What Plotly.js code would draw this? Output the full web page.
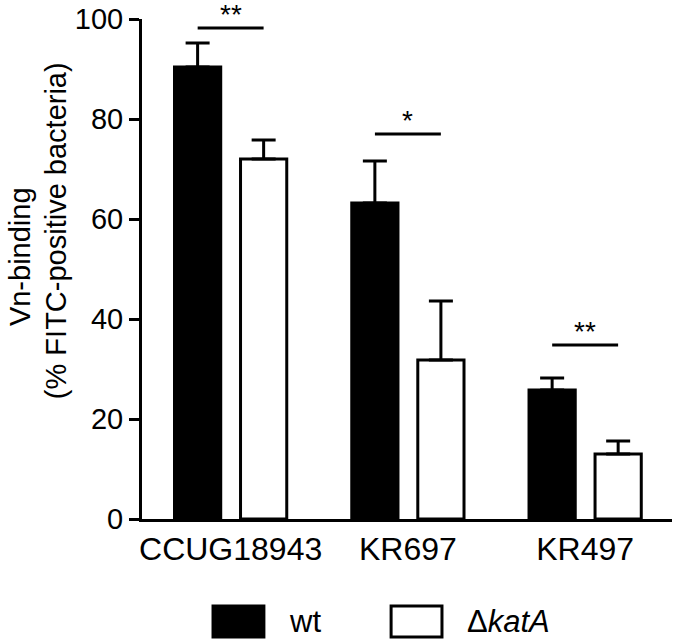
<!DOCTYPE html>
<html>
<head>
<meta charset="utf-8">
<script src="https://cdn.plot.ly/plotly-3.0.1.min.js"></script>
<style>html,body{margin:0;padding:0;background:#fff;}#chart{width:675px;height:641px;}</style>
</head>
<body>
<div id="chart"></div>
<script>
const categories = ['CCUG18943', 'KR697', 'KR497'];
const seriesNames = ['wt', 'Δ<i>katA</i>'];
const wtValues = [90.4, 63.2, 25.8];
const wtErrors = [4.8, 8.4, 2.4];
const katAValues = [72.0, 31.8, 13.0];
const katAErrors = [3.8, 11.8, 2.6];
const sigLevels = [98.2, 77.0, 34.8];
const sigLabels = ['**', '*', '**'];
const yTicks = [0, 20, 40, 60, 80, 100];
const yTitleLines = ['Vn-binding', '(% FITC-positive bacteria)'];

const FONT = 'Liberation Sans, Arial, sans-serif';

const traces = [
  {
    type: 'bar', name: seriesNames[0], x: categories, y: wtValues,
    marker: {color: '#000', line: {color: '#000', width: 3}},
    error_y: {type: 'data', array: wtErrors, arrayminus: wtErrors.map(() => 0), symmetric: false,
              color: '#000', thickness: 3, width: 12},
    cliponaxis: false
  },
  {
    type: 'bar', name: seriesNames[1], x: categories, y: katAValues,
    marker: {color: '#fff', line: {color: '#000', width: 3}},
    error_y: {type: 'data', array: katAErrors, arrayminus: katAErrors.map(() => 0), symmetric: false,
              color: '#000', thickness: 3, width: 12},
    cliponaxis: false
  }
];

const half = 0.186;
const shapes = [];
const annotations = [];
categories.forEach((c, i) => {
  shapes.push({type: 'line', xref: 'x', yref: 'y', x0: i - half, x1: i + half,
               y0: sigLevels[i], y1: sigLevels[i], line: {color: '#000', width: 3}});
  annotations.push({xref: 'x', yref: 'y', x: i, y: sigLevels[i], text: sigLabels[i],
                    showarrow: false, yanchor: 'bottom', yshift: -4,
                    font: {family: FONT, size: 28, color: '#000'}});
});

// y-axis title, two lines (slightly offset as in the original)
const titleX = [-0.230, -0.162];
const titleY = [0.524, 0.576];
yTitleLines.forEach((t, i) => {
  annotations.push({xref: 'paper', yref: 'paper', x: titleX[i], y: titleY[i], text: t,
                    textangle: -90, showarrow: false, xanchor: 'center', yanchor: 'middle',
                    font: {family: FONT, size: 29, color: '#000'}});
});

// custom legend (large swatches)
const legendFills = ['#000', '#fff'];
const legendX = [0.134, 0.470];
seriesNames.forEach((n, i) => {
  shapes.push({type: 'rect', xref: 'paper', yref: 'paper', x0: legendX[i], x1: legendX[i] + 0.096,
               y0: -0.236, y1: -0.174, fillcolor: legendFills[i], line: {color: '#000', width: 3}});
  annotations.push({xref: 'paper', yref: 'paper', x: legendX[i] + 0.14, y: -0.205, text: n,
                    showarrow: false, xanchor: 'left', yanchor: 'middle',
                    font: {family: FONT, size: 31, color: '#000'}});
});

const layout = {
  width: 675, height: 641,
  margin: {l: 142, r: 3, t: 19, b: 122},
  paper_bgcolor: '#fff', plot_bgcolor: '#fff',
  showlegend: false,
  barmode: 'group', bargap: 0.255, bargroupgap: 0.30,
  font: {family: FONT, color: '#000'},
  xaxis: {
    type: 'category', range: [-0.5, 2.49],
    showline: true, linecolor: '#000', linewidth: 3,
    ticks: '', showgrid: false, zeroline: false,
    tickfont: {family: FONT, size: 32, color: '#000'}
  },
  yaxis: {
    range: [0, 100], tickvals: yTicks, ticktext: yTicks.map(String),
    showline: true, linecolor: '#000', linewidth: 3,
    ticks: 'outside', ticklen: 10, tickwidth: 3, tickcolor: '#000',
    showgrid: false, zeroline: false,
    tickfont: {family: FONT, size: 29, color: '#000'}
  },
  shapes: shapes,
  annotations: annotations
};

Plotly.newPlot('chart', traces, layout, {displayModeBar: false, staticPlot: true});
</script>
</body>
</html>
